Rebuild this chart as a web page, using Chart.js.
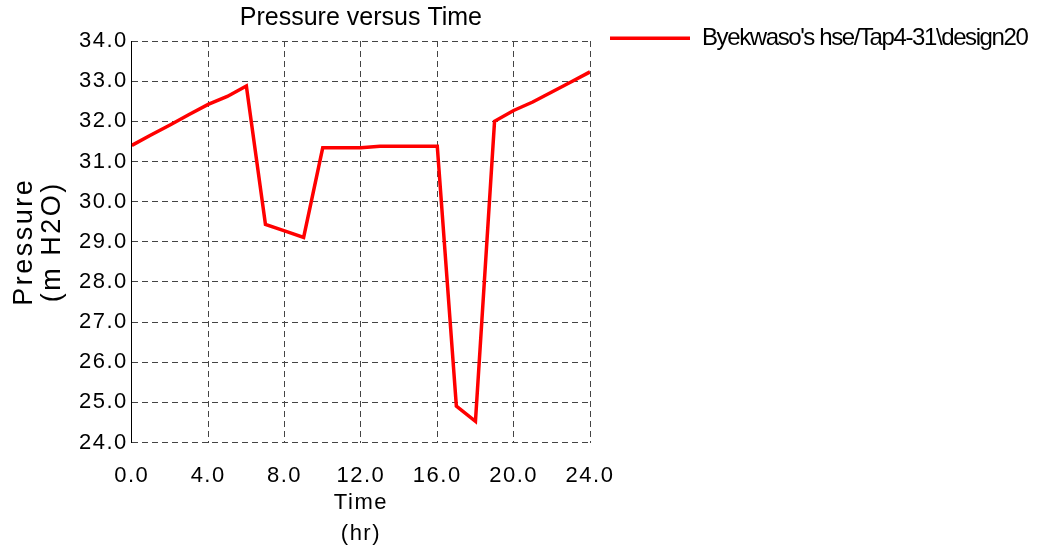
<!DOCTYPE html>
<html>
<head>
<meta charset="utf-8">
<script src="https://cdn.jsdelivr.net/npm/chart.js@4/dist/chart.umd.min.js"></script>
<style>
  html, body { margin: 0; padding: 0; background: #ffffff; }
  canvas { display: block; }
</style>
</head>
<body>
<canvas id="c" width="1047" height="551"></canvas>
<script>
// ---- data ----
const seriesLabel = "Byekwaso's hse/Tap4-31\\design20";
const hours = [0, 1, 2, 3, 4, 5, 6, 7, 8, 9, 10, 11, 12, 13, 14, 15, 16, 17, 18, 19, 20, 21, 22, 23, 24];
const pressure = [31.40, 31.66, 31.91, 32.17, 32.42, 32.62, 32.88, 29.43, 29.27, 29.11, 31.34, 31.34, 31.34, 31.38, 31.38, 31.38, 31.38, 24.91, 24.53, 32.00, 32.27, 32.48, 32.73, 32.98, 33.23];
const chartTitle = 'Pressure versus Time';
const xTitle = ['Time', '(hr)'];
const yTitle = ['Pressure', '(m H2O)'];
const xRange = [0, 24, 4];
const yRange = [24, 34, 1];

const points = hours.map((h, i) => ({ x: h, y: pressure[i] }));

const gridColor = '#444444';
const baseFont = "'Liberation Sans', Arial, sans-serif";

// letter spacing for texts (the reference renders axis texts slightly spaced, legend condensed)
const axisSpacing = { x: { labels: '1.5px', title: '1.5px' }, y: { labels: '1.5px', title: '2.5px' } };
const legendSpacing = '-1.4px';
function withSpacing(obj, name, spacing) {
  const orig = obj[name];
  obj[name] = function (...a) {
    const c = this.ctx; const p = c.letterSpacing;
    c.letterSpacing = spacing;
    const r = orig.apply(this, a);
    c.letterSpacing = p;
    return r;
  };
}
const spacingPlugin = {
  id: 'textSpacing',
  afterLayout(chart) {
    for (const id of Object.keys(axisSpacing)) {
      const s = chart.scales[id];
      if (!s || s.__spaced) continue;
      s.__spaced = true;
      withSpacing(s, 'drawLabels', axisSpacing[id].labels);
      withSpacing(s, 'drawTitle', axisSpacing[id].title);
    }
    const lg = chart.legend;
    if (lg && !lg.__spaced) {
      lg.__spaced = true;
      withSpacing(lg, 'draw', legendSpacing);
    }
  }
};

new Chart(document.getElementById('c'), {
  type: 'line',
  data: {
    datasets: [{
      label: seriesLabel,
      data: points,
      borderColor: '#ff0000',
      backgroundColor: '#ff0000',
      borderWidth: 3.5,
      pointRadius: 0,
      pointHoverRadius: 0,
      tension: 0,
      fill: false
    }]
  },
  plugins: [spacingPlugin],
  options: {
    responsive: false,
    animation: false,
    devicePixelRatio: 1,
    layout: { padding: { left: 0, right: 0, top: 0, bottom: 0 } },
    plugins: {
      tooltip: { enabled: false },
      title: {
        display: true,
        text: chartTitle,
        color: '#000000',
        fullSize: false,
        font: { family: baseFont, size: 25, weight: 'normal', lineHeight: 1.2 },
        padding: { top: 3, bottom: 8 }
      },
      legend: {
        display: true,
        position: 'right',
        align: 'start',
        fullSize: true,
        maxWidth: 457,
        title: { display: true, text: ' ', font: { size: 1 }, padding: { top: 0, bottom: 5 } },
        labels: {
          color: '#000000',
          font: { family: baseFont, size: 24 },
          padding: 20,
          usePointStyle: true,
          pointStyle: 'line',
          pointStyleWidth: 80
        }
      }
    },
    scales: {
      x: {
        type: 'linear',
        min: xRange[0],
        max: xRange[1],
        grid: { color: gridColor, lineWidth: 1, drawTicks: false },
        border: { display: false, dash: [6, 4] },
        ticks: {
          stepSize: xRange[2],
          color: '#000000',
          padding: 20,
          maxRotation: 0,
          font: { family: baseFont, size: 22 },
          callback: (v) => Number(v).toFixed(1)
        },
        title: {
          display: true,
          text: xTitle,
          color: '#000000',
          font: { family: baseFont, size: 22, lineHeight: 1.41 },
          padding: { top: -22, bottom: 2 }
        }
      },
      y: {
        type: 'linear',
        min: yRange[0],
        max: yRange[1],
        grid: { color: gridColor, lineWidth: 1, drawTicks: false },
        border: { display: true, color: '#000000', width: 1, dash: [6, 4] },
        ticks: {
          stepSize: yRange[2],
          color: '#000000',
          padding: 4,
          font: { family: baseFont, size: 22 },
          callback: (v) => Number(v).toFixed(1)
        },
        title: {
          display: true,
          text: yTitle,
          color: '#000000',
          font: { family: baseFont, size: 27, lineHeight: 1.037 },
          padding: { top: 11, bottom: 14 }
        }
      }
    }
  }
});
</script>
</body>
</html>
